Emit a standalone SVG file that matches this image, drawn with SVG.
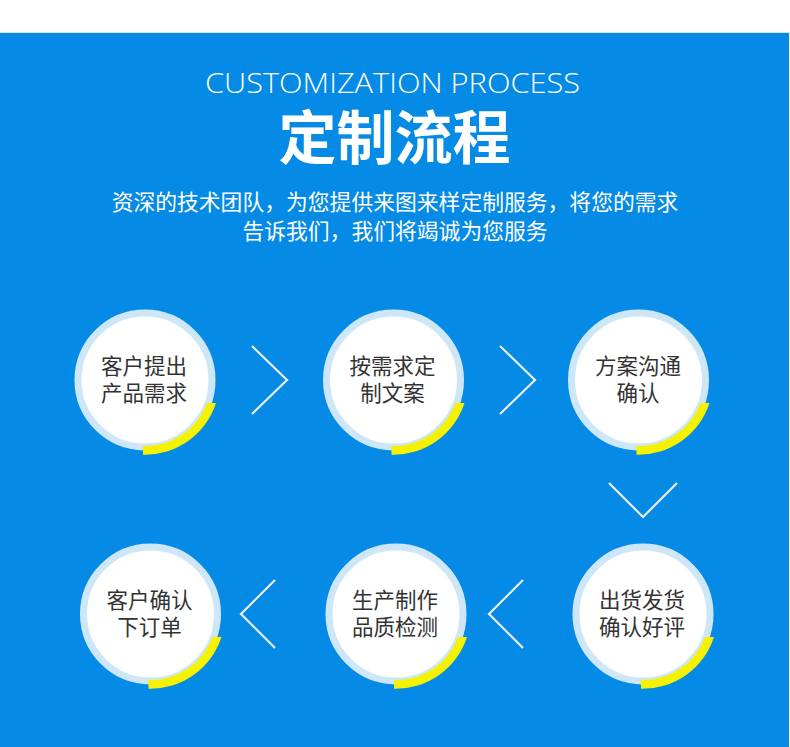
<svg xmlns="http://www.w3.org/2000/svg" xmlns:xlink="http://www.w3.org/1999/xlink" width="790" height="747" viewBox="0 0 790 747">
  <style>
    .bg { fill: #058be5; }
    .ring { fill: #ffffff; stroke: #cde6f8; stroke-width: 7; }
    .yellow { fill: #f4f200; }
    .label { font-family: "Noto Sans CJK SC", "Noto Sans", sans-serif; font-size: 21.5px; fill: #333333; text-anchor: middle; }
    .chev { fill: none; stroke: #e9eef3; stroke-width: 2.2; stroke-linecap: butt; stroke-linejoin: miter; }
    .en { font-family: "Open Sans", "Noto Sans", "Liberation Sans", sans-serif; font-weight: 300; font-size: 28px; fill: #ffffff; text-anchor: middle; }
    .zh-title { font-family: "Noto Sans CJK SC", sans-serif; font-weight: 700; font-size: 58px; fill: #ffffff; text-anchor: middle; }
    .sub { font-family: "Noto Sans CJK SC", sans-serif; font-size: 21.8px; fill: #ffffff; text-anchor: middle; }
  </style>
  <defs>
    <path id="arc" class="yellow" d="M71,23 A74.6 74.6 0 0 1 -2,74.8 L-2,66 A66 66 0 0 0 62,23 Z"/>
  </defs>

  <rect x="0" y="0" width="790" height="747" fill="#ffffff"/>
  <rect x="0" y="32" width="790" height="1" fill="#cfe5f7"/>
  <rect class="bg" x="0" y="33" width="789" height="714"/>

  <g id="header">
    <text class="en" x="392.5" y="93" textLength="375" lengthAdjust="spacingAndGlyphs">CUSTOMIZATION PROCESS</text>
    <text class="zh-title" x="394.5" y="159">定制流程</text>
    <text class="sub" x="395" y="210">资深的技术团队，为您提供来图来样定制服务，将您的需求</text>
    <text class="sub" x="395" y="239">告诉我们，我们将竭诚为您服务</text>
  </g>

  <g id="connectors">
    <polyline class="chev" points="252,346 287,380 252,414"/>
    <polyline class="chev" points="500,346 535,380 500,414"/>
    <polyline class="chev" points="609,483 643,517 677,483"/>
    <polyline class="chev" points="523,580 489,614 523,648"/>
    <polyline class="chev" points="275,580 241,614 275,648"/>
  </g>

  <g id="step1">
    <circle class="ring" cx="145" cy="380" r="67"/>
    <use xlink:href="#arc" x="145" y="380"/>
    <text class="label" x="144" y="374">客户提出</text>
    <text class="label" x="144" y="401">产品需求</text>
  </g>

  <g id="step2">
    <circle class="ring" cx="393.5" cy="380" r="67"/>
    <use xlink:href="#arc" x="393.5" y="380"/>
    <text class="label" x="392.5" y="374">按需求定</text>
    <text class="label" x="392.5" y="401">制文案</text>
  </g>

  <g id="step3">
    <circle class="ring" cx="638.5" cy="380" r="67"/>
    <use xlink:href="#arc" x="638.5" y="380"/>
    <text class="label" x="638" y="374">方案沟通</text>
    <text class="label" x="638" y="401">确认</text>
  </g>

  <g id="step4">
    <circle class="ring" cx="643" cy="614" r="67"/>
    <use xlink:href="#arc" x="643" y="614"/>
    <text class="label" x="642" y="608">出货发货</text>
    <text class="label" x="642" y="635">确认好评</text>
  </g>

  <g id="step5">
    <circle class="ring" cx="396" cy="614" r="67"/>
    <use xlink:href="#arc" x="396" y="614"/>
    <text class="label" x="395" y="608">生产制作</text>
    <text class="label" x="395" y="635">品质检测</text>
  </g>

  <g id="step6">
    <circle class="ring" cx="150.5" cy="614" r="67"/>
    <use xlink:href="#arc" x="150.5" y="614"/>
    <text class="label" x="149.5" y="608">客户确认</text>
    <text class="label" x="149.5" y="635">下订单</text>
  </g>
</svg>
